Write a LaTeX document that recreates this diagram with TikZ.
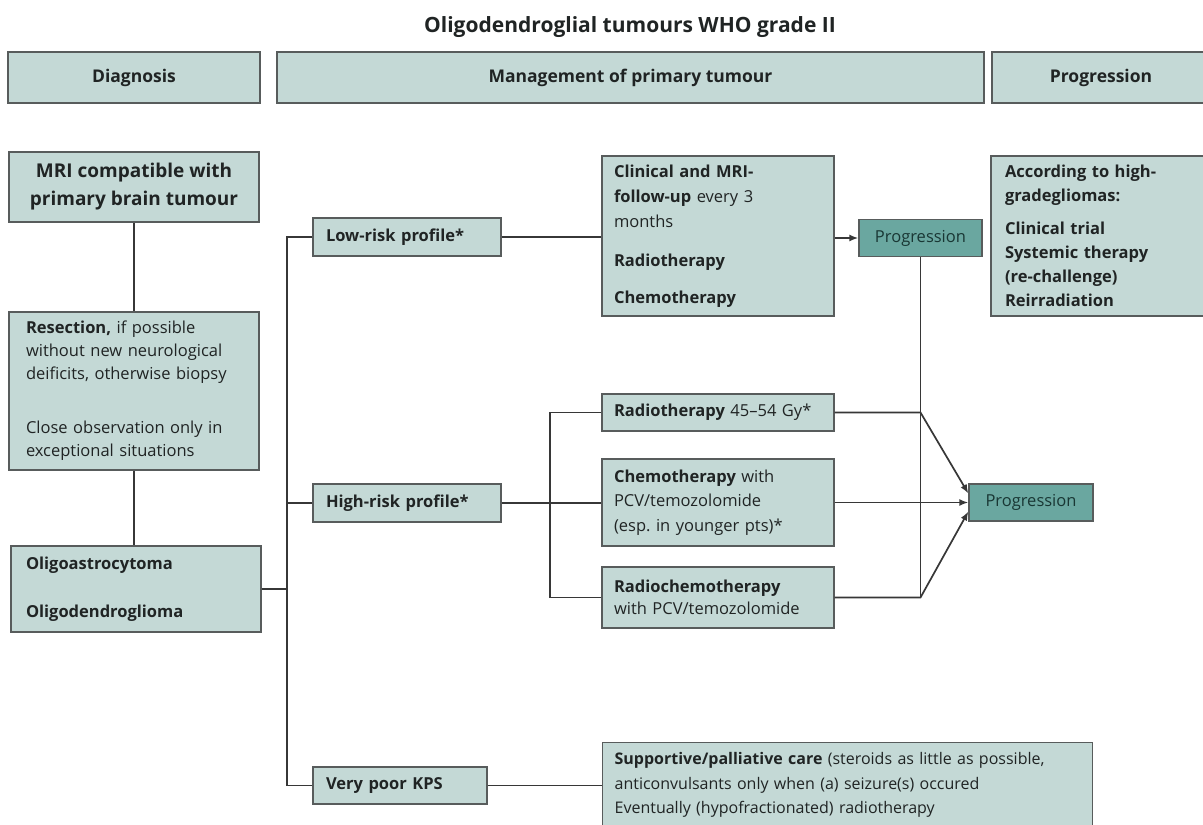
\documentclass[tikz,border=0pt]{standalone}
\usepackage{fontspec}
\setmainfont{Open Sans}
\usetikzlibrary{arrows.meta}
\definecolor{boxfill}{RGB}{196,217,214}
\definecolor{progfill}{RGB}{106,167,160}
\definecolor{edgecol}{RGB}{88,92,92}
\definecolor{linecol}{RGB}{55,55,55}
\definecolor{txt}{RGB}{32,36,36}
\definecolor{progtxt}{RGB}{25,55,52}
\begin{document}
\begin{tikzpicture}[x=1pt,y=-1pt,
  box/.style={draw=edgecol, fill=boxfill, line width=1.3pt, inner sep=0pt, text=txt,
    font=\fontsize{16.5}{23}\selectfont},
  lbox/.style={box, align=left, inner xsep=13pt},
  pbox/.style={box, fill=progfill, text=progtxt},
  hdr/.style={box, font=\fontsize{17.5}{22}\selectfont\bfseries},
  conn/.style={draw=linecol, line width=1.7pt},
  arr/.style={conn, -{Latex[length=9pt,width=7pt]}},
]
\useasboundingbox (0,0) rectangle (1203,825);
\clip (0,0) rectangle (1203,825);
\fill[white] (0,0) rectangle (1203,825);

% title
\node[anchor=base, text=txt, font=\fontsize{21}{24}\selectfont\bfseries] (title) at (630,32) {Oligodendroglial tumours WHO grade II};

% headers
\node[hdr, minimum width=252, minimum height=51] (hdiag) at (134,77.5) {Diagnosis};
\node[hdr, minimum width=707, minimum height=51] (hman) at (630.5,77.5) {Management of primary tumour};
\node[hdr, minimum width=218, minimum height=51] (hprog) at (1101,77.5) {Progression};

% diagnosis column
\node[box, align=center, minimum width=250, minimum height=70, font=\fontsize{19}{28}\selectfont\bfseries] (mri) at (134,187) {MRI compatible with\\primary brain tumour};
\node[lbox, inner xsep=17pt, text width=216, minimum width=250, minimum height=158] (res) at (134,391)
  {\textbf{Resection,} if possible\\without new neurological\\deificits, otherwise biopsy\\[31pt]Close observation only in\\exceptional situations};
\node[lbox, inner xsep=15pt, text width=220, minimum width=250, minimum height=86] (oligo) at (136,589)
  {\textbf{Oligoastrocytoma}\\[25pt]\textbf{Oligodendroglioma}};

% risk profiles
\node[lbox, text width=162, minimum width=188, minimum height=38] (low) at (407,237) {\textbf{Low-risk profile*}};
\node[lbox, text width=162, minimum width=188, minimum height=38] (high) at (407,503) {\textbf{High-risk profile*}};
\node[lbox, text width=148, minimum width=174, minimum height=37] (kps) at (400,785.5) {\textbf{Very poor KPS}};

% treatment boxes
\node[lbox, inner xsep=12pt, text width=208, minimum width=232, minimum height=160, font=\fontsize{16.5}{25}\selectfont] (clin) at (718,236)
  {\textbf{Clinical and MRI-}\\\textbf{follow-up} every 3\\months\\[14pt]\textbf{Radiotherapy}\\[12pt]\textbf{Chemotherapy}};
\node[lbox, inner xsep=12pt, text width=208, minimum width=232, minimum height=37] (rt) at (718,412.5) {\textbf{Radiotherapy} 45–54 Gy*};
\node[lbox, inner xsep=12pt, text width=208, minimum width=232, minimum height=87, font=\fontsize{16.5}{24.5}\selectfont] (chemo) at (718,502.5)
  {\textbf{Chemotherapy} with\\PCV/temozolomide\\(esp.\ in younger pts)*};
\node[lbox, inner xsep=12pt, text width=208, minimum width=232, minimum height=61, font=\fontsize{16.5}{22}\selectfont] (rchemo) at (718,597.5)
  {\textbf{Radiochemotherapy}\\with PCV/temozolomide};
\node[lbox, anchor=north west, inner xsep=12pt, inner ysep=10pt, text width=466, font=\fontsize{16}{24.5}\selectfont] (supp) at (602,742)
  {\textbf{Supportive/palliative care} (steroids as little as possible,\\anticonvulsants only when (a) seizure(s) occured\\Eventually (hypofractionated) radiotherapy\\\mbox{}};

% progression
\node[pbox, minimum width=123, minimum height=37] (prog1) at (920.5,238) {Progression};
\node[pbox, minimum width=124, minimum height=37] (prog2) at (1031,502.5) {Progression};
\node[lbox, inner xsep=14pt, text width=191, minimum width=219, minimum height=160, font=\fontsize{16.5}{24}\selectfont] (progr) at (1100.5,236)
  {\textbf{According to high-}\\\textbf{gradegliomas:}\\[9pt]\textbf{Clinical trial}\\\textbf{Systemic therapy}\\\textbf{(re-challenge)}\\\textbf{Reirradiation}};

% connectors
\coordinate (tk) at (287,589);
\coordinate (hb) at (550,503);
\draw[conn] (mri.south) -- (res.north);
\draw[conn] (res.south) -- (res.south |- oligo.north);
\draw[conn] (oligo.east) -- (tk);
\draw[conn] (low.west) -| (tk);
\draw[conn] (kps.west) -| (tk);
\draw[conn] (high.west) -- (high.west -| tk);
\draw[conn] (low.east) -- (low.east -| clin.west);
\draw[arr] (clin.east |- prog1.west) -- (prog1.west);
\draw[conn] (high.east) -- (high.east -| chemo.west);
\draw[conn] (rt.west) -| (hb);
\draw[conn] (rchemo.west) -| (hb);
\draw[conn] (kps.east) -- (kps.east -| supp.west);
\draw[conn] (prog1.south) -- (prog1.south |- rchemo.east);
\draw[arr] (rt.east) -- (rt.east -| prog1.south) -- ([yshift=9pt]prog2.west);
\draw[arr] (chemo.east) -- (prog2.west);
\draw[arr] (rchemo.east) -- (rchemo.east -| prog1.south) -- ([yshift=-9pt]prog2.west);
\end{tikzpicture}
\end{document}
